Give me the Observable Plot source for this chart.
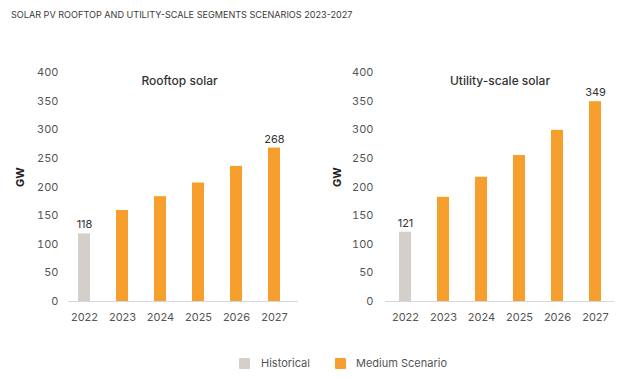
<!DOCTYPE html>
<html>
<head>
<meta charset="utf-8">
<script src="https://cdn.jsdelivr.net/npm/d3@7"></script>
<script src="https://cdn.jsdelivr.net/npm/@observablehq/plot@0.6"></script>
<style>
  html, body { margin: 0; padding: 0; background: #fff; }
  body { width: 640px; height: 379px; position: relative; font-family: Inter, "Noto Sans", sans-serif; overflow: hidden; }
  #title { position: absolute; left: 11px; top: 9px; font-size: 9.1px; color: #3a3a3a; letter-spacing: 0px; white-space: nowrap; }
  #charts { position: absolute; left: 0; top: 30px; display: flex; }
  #legend { position: absolute; left: 0; top: 357px; width: 640px; font-size: 11px; color: #555; }
  .sw { position: absolute; top: 1px; width: 11px; height: 11px; border-radius: 1px; }
  .lt { position: absolute; top: 0px; line-height: 13px; }
</style>
</head>
<body>
<div id="title">SOLAR PV ROOFTOP AND UTILITY-SCALE SEGMENTS SCENARIOS 2023-2027</div>
<div id="charts"></div>
<div id="legend"></div>
<script>
const years = ["2022", "2023", "2024", "2025", "2026", "2027"];
const rooftop = [118, 159, 183, 207, 236, 268];
const utility = [121, 182, 217, 255, 299, 349];
const status = ["Historical", "Medium Scenario", "Medium Scenario", "Medium Scenario", "Medium Scenario", "Medium Scenario"];
const labeled = [true, false, false, false, false, true];
const yTicks = [0, 50, 100, 150, 200, 250, 300, 350, 400];
const legendNames = ["Historical", "Medium Scenario"];
const legendColors = ["#d5cfcc", "#f79f2d"];
const panelTitles = ["Rooftop solar", "Utility-scale solar"];

function panel(values, title, opts) {
  const data = years.map((y, i) => ({year: y, value: values[i], status: status[i], labeled: labeled[i]}));
  return Plot.plot({
    width: 320,
    height: 310,
    marginTop: 42,
    marginBottom: 39,
    marginLeft: opts.ml,
    marginRight: opts.mr,
    style: {fontFamily: "Inter, 'Noto Sans', sans-serif", fontSize: "11px", color: "#555", background: "transparent"},
    x: {domain: years, paddingInner: 0.694, paddingOuter: 0.357, align: opts.align, label: null, tickSize: 0, tickPadding: 12},
    y: {domain: [0, 400], ticks: yTicks, label: null, tickSize: 0, tickPadding: opts.tp},
    color: {domain: legendNames, range: legendColors},
    marks: [
      Plot.barY(data, {x: "year", y: "value", fill: "status"}),
      Plot.ruleY([0], {stroke: "#d6d6e0", strokeWidth: 1.2}),
      Plot.text(data.filter(d => d.labeled), {x: "year", y: "value", text: d => String(d.value), dy: -9, fill: "#333", fontSize: 11}),
      Plot.text([title], {frameAnchor: "top", dx: opts.tdx, dy: 4, fill: "#333", fontSize: 12, fontWeight: 500}),
      Plot.text(["GW"], {frameAnchor: "left", dx: -48, rotate: -90, fill: "#222", fontSize: 11, fontWeight: "bold"})
    ]
  });
}

const charts = document.getElementById("charts");
charts.appendChild(panel(rooftop, panelTitles[0], {ml: 68, mr: 22, align: 0.355, tp: 10, tdx: -4}));
charts.appendChild(panel(utility, panelTitles[1], {ml: 65, mr: 26, align: 0.5, tp: 12, tdx: 0}));

const legend = document.getElementById("legend");
const swX = [239, 335];
const txX = [261, 356];
legendNames.forEach((n, i) => {
  const s = document.createElement("div");
  s.className = "sw"; s.style.left = swX[i] + "px"; s.style.background = legendColors[i];
  legend.appendChild(s);
  const t = document.createElement("div");
  t.className = "lt"; t.style.left = txX[i] + "px"; t.textContent = n;
  legend.appendChild(t);
});
</script>
</body>
</html>
